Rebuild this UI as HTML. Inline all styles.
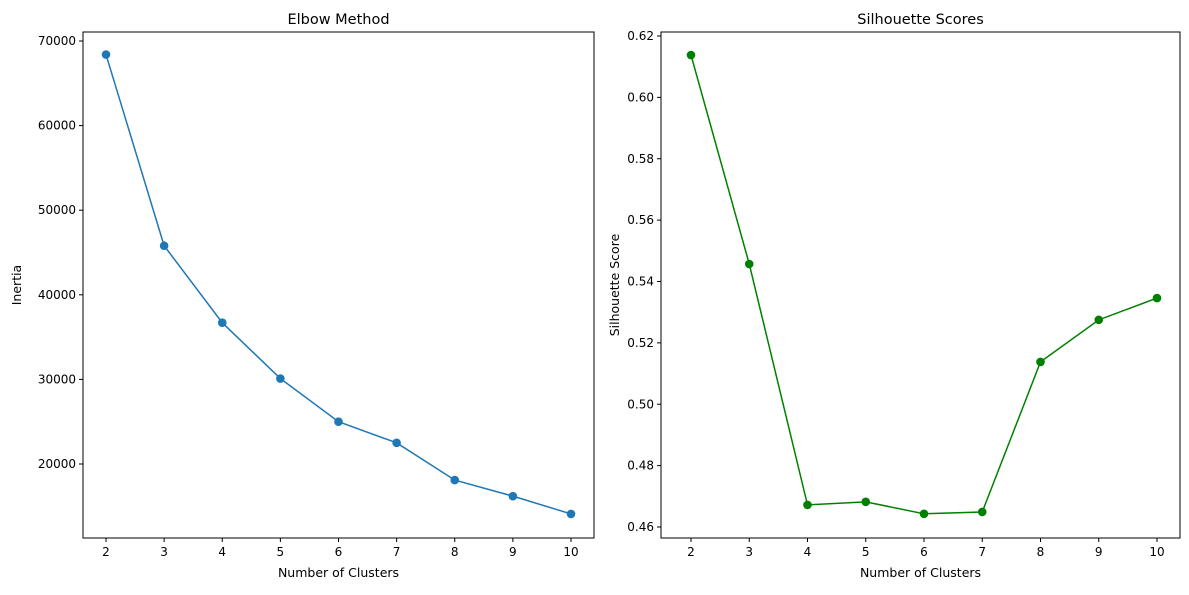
<!DOCTYPE html>
<html><head><meta charset="utf-8"><style>
body{margin:0;background:#fff;font-family:"Liberation Sans","DejaVu Sans",sans-serif;}
svg text{font-family:"DejaVu Sans","Liberation Sans",sans-serif;fill:#000;}
</style></head><body>
<svg id="chart" width="1189" height="590" xmlns="http://www.w3.org/2000/svg"></svg>
<script>
const clusters=[2,3,4,5,6,7,8,9,10];
const inertia=[68400,45800,36700,30100,25000,22500,18100,16200,14100];
const silhouette=[0.6138,0.5457,0.4672,0.4682,0.4643,0.4649,0.5138,0.5275,0.5346];
const inertiaTicks=[20000,30000,40000,50000,60000,70000];
const silTicks=[0.46,0.48,0.50,0.52,0.54,0.56,0.58,0.60,0.62];
const xTicks=[2,3,4,5,6,7,8,9,10];
const svg=document.getElementById('chart');
const NS='http://www.w3.org/2000/svg';
function mk(t,a,p){const e=document.createElementNS(NS,t);for(const k in a)e.setAttribute(k,a[k]);(p||svg).appendChild(e);return e;}
function panel(cfg){
 const g=mk('g',{});
 
 
 const xs=v=>cfg.x0+(v-2)*(cfg.x1-cfg.x0)/8;
 const ys=v=>cfg.y0+(v-cfg.yv0)*(cfg.y1-cfg.y0)/(cfg.yv1-cfg.yv0);
 xTicks.forEach(t=>{const x=xs(t);mk('line',{x1:x,x2:x,y1:cfg.B,y2:cfg.B+4,stroke:'#000'},g);
  const tx=mk('text',{x:x,y:cfg.B+18,'text-anchor':'middle','font-size':12},g);tx.textContent=t;
  });
 cfg.ticks.forEach(t=>{const y=ys(t);mk('line',{x1:cfg.L-4,x2:cfg.L,y1:y,y2:y,stroke:'#000'},g);
  const tx=mk('text',{x:cfg.L-7,y:y+4,'text-anchor':'end','font-size':12},g);tx.textContent=cfg.fmt(t);
  });
 const pts=clusters.map((c,i)=>xs(c)+','+ys(cfg.data[i])).join(' ');
 const pl=mk('polyline',{points:pts,fill:'none',stroke:cfg.color,'stroke-width':1.5},g);
 
 clusters.forEach((c,i)=>{const m=mk('circle',{cx:xs(c),cy:ys(cfg.data[i]),r:4.3,fill:cfg.color},g);
  });
 const fr=mk('rect',{x:cfg.L,y:cfg.T,width:cfg.R-cfg.L,height:cfg.B-cfg.T,fill:'none',stroke:'#000','stroke-width':1},g);
 
 const ti=mk('text',{x:(cfg.L+cfg.R)/2,y:cfg.T-8,'text-anchor':'middle','font-size':14.5},g);ti.textContent=cfg.title;
 
 const xl=mk('text',{x:(cfg.L+cfg.R)/2,y:577,'text-anchor':'middle','font-size':12.5},g);xl.textContent='Number of Clusters';
 
 const yl=mk('text',{x:cfg.ylx,y:(cfg.T+cfg.B)/2,'text-anchor':'middle','font-size':12.5,transform:`rotate(-90 ${cfg.ylx} ${(cfg.T+cfg.B)/2})`},g);yl.textContent=cfg.ylabel;
 
}
panel({name:'elbow-panel',L:83,R:594,T:32,B:538,x0:106,x1:571,yv0:70000,yv1:20000,y0:41,y1:464,
 ticks:inertiaTicks,fmt:t=>String(t),data:inertia,color:'#1f77b4',title:'Elbow Method',ylabel:'Inertia',ylx:21});
panel({name:'silhouette-panel',L:661,R:1180,T:32,B:538,x0:691,x1:1157,yv0:0.62,yv1:0.46,y0:36,y1:527,
 ticks:silTicks,fmt:t=>t.toFixed(2),data:silhouette,color:'#008000',title:'Silhouette Scores',ylabel:'Silhouette Score',ylx:619});
</script>
</body></html>
